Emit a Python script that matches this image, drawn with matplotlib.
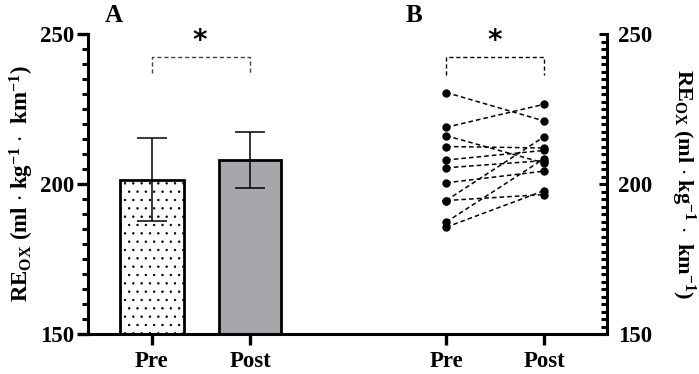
import numpy as np
import matplotlib
matplotlib.use("Agg")
import matplotlib.pyplot as plt
from matplotlib.ticker import MultipleLocator

plt.rcParams['font.family'] = ['Liberation Serif', 'DejaVu Serif']
plt.rcParams['font.weight'] = 'bold'
plt.rcParams['mathtext.fontset'] = 'custom'
plt.rcParams['mathtext.rm'] = 'Liberation Serif:bold'
plt.rcParams['mathtext.bf'] = 'Liberation Serif:bold'
plt.rcParams['mathtext.it'] = 'Liberation Serif:bold'
plt.rcParams['hatch.linewidth'] = 0.5

# data
groups = ['Pre', 'Post']
bar_means = [201.5, 208.0]
bar_err = [13.7, 9.3]

pre_vals = [230.5, 218.9, 216.1, 212.5, 208.0, 205.4, 200.4, 194.5, 194.5, 187.3, 185.6]
post_vals = [221.0, 226.6, 207.0, 212.0, 211.2, 207.8, 204.3, 196.5, 215.8, 208.5, 197.8]

# x positions: panel A bars at 0,1 ; panel B points at 3,4
xa = [0, 1]
xb = [3, 4]

ylab = r'RE$_{\mathrm{OX}}$ (ml $\cdot$ kg$^{\mathrm{-1}}$ $\cdot$  km$^{\mathrm{-1}}$)'

fig = plt.figure(figsize=(6.99, 3.74), dpi=100)
ax = fig.add_axes([88 / 699, 40 / 374, (607 - 88) / 699, 300 / 374])

ax.bar(xa[0], bar_means[0], width=0.65, bottom=0, color='white', edgecolor='black',
       linewidth=2, hatch='..', zorder=2)
ax.bar(xa[1], bar_means[1], width=0.63, bottom=0, color='#a7a7ab', edgecolor='black',
       linewidth=2, zorder=2)
ax.errorbar(xa, bar_means, yerr=bar_err, fmt='none', ecolor='black', elinewidth=1.1,
            capsize=11, capthick=1.1, zorder=3)

for p, q in zip(pre_vals, post_vals):
    ax.plot(xb, [p, q], color='black', linestyle=(0, (3, 2)), linewidth=1.1,
            marker='o', markersize=5, zorder=3)

# significance brackets
ax.plot([0, 0, 1, 1], [237, 242.4, 242.4, 237], color='#444444', linestyle=(0, (3, 2)),
        linewidth=1.0, clip_on=False)
ax.plot([3, 3, 4, 4], [236.5, 242.2, 242.2, 236.5], color='black', linestyle=(0, (3, 2)),
        linewidth=1.0, clip_on=False)
ax.text(0.49, 247.8, '*', ha='center', va='center', fontsize=20, fontweight='bold',
        family='DejaVu Sans')
ax.text(3.49, 247.8, '*', ha='center', va='center', fontsize=20, fontweight='bold',
        family='DejaVu Sans')

ax.set_xlim(-0.653, 4.64)
ax.set_ylim(150, 250)
ax.set_xticks(xa + xb)
ax.set_xticklabels(groups + groups)
ax.yaxis.set_major_locator(MultipleLocator(50))
ax.yaxis.set_minor_locator(MultipleLocator(5))
for s in ['top', 'right']:
    ax.spines[s].set_visible(False)
for s in ['left', 'bottom']:
    ax.spines[s].set_linewidth(2.2)
ax.tick_params(axis='both', which='major', length=8, width=2.4, labelsize=16.5)
ax.tick_params(axis='y', which='minor', length=4.5, width=2.2)
ax.tick_params(axis='x', which='major', pad=4)
ax.tick_params(axis='y', which='major', pad=2)
ax.set_ylabel(ylab, fontsize=16.5, fontweight='bold', labelpad=3)

ax2 = ax.twinx()
ax2.set_ylim(150, 250)
for s in ['top', 'left', 'bottom']:
    ax2.spines[s].set_visible(False)
ax2.spines['right'].set_linewidth(2.2)
ax2.yaxis.set_major_locator(MultipleLocator(50))
ax2.yaxis.set_minor_locator(MultipleLocator(2.5))
ax2.tick_params(axis='y', which='major', direction='in', length=6, width=2.2,
                labelsize=16.5, pad=8)
ax2.tick_params(axis='y', which='minor', direction='in', length=4, width=2.2)
ax2.set_ylabel(ylab, fontsize=16, fontweight='bold', rotation=270, labelpad=32)

fig.text(114 / 699, 1 - 15 / 374, 'A', ha='center', va='center', fontsize=18, fontweight='bold')
fig.text(414 / 699, 1 - 15 / 374, 'B', ha='center', va='center', fontsize=18, fontweight='bold')

fig.savefig('out.png', dpi=100)
